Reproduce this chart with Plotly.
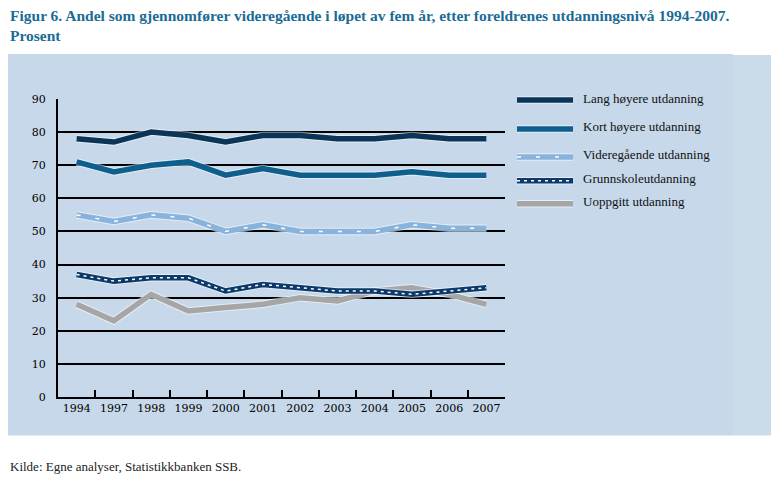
import plotly.graph_objects as go

years = ["1994", "1997", "1998", "1999", "2000", "2001", "2002", "2003", "2004", "2005", "2006", "2007"]
lang_hoyere = [78, 77, 80, 79, 77, 79, 79, 78, 78, 79, 78, 78]
kort_hoyere = [71, 68, 70, 71, 67, 69, 67, 67, 67, 68, 67, 67]
videregaende = [55, 53, 55, 54, 50, 52, 50, 50, 50, 52, 51, 51]
grunnskole = [37, 35, 36, 36, 32, 34, 33, 32, 32, 31, 32, 33]
uoppgitt = [28, 23, 31, 26, 27, 28, 30, 29, 32, 33, 31, 28]

names = ["Lang høyere utdanning", "Kort høyere utdanning", "Videregående utdanning",
         "Grunnskoleutdanning", "Uoppgitt utdanning"]
colors = ["#0b3558", "#0e5f8d", "#88b3dc", "#0b3a6a", "#a6a6a6"]
series = [lang_hoyere, kort_hoyere, videregaende, grunnskole, uoppgitt]
overlay = {2: "4px,15px", 3: "3px,4px"}

W, H = 781, 486
L, R, T, B = 58, 505, 99, 397.5

fig = go.Figure()
order = [0, 1, 2, 4, 3]
for i in order:
    fig.add_trace(go.Scatter(x=years, y=series[i], mode="lines", showlegend=False,
                             hoverinfo="skip",
                             line=dict(color="rgba(255,255,255,0.55)", width=7.5)))
    fig.add_trace(go.Scatter(x=years, y=series[i], mode="lines", name=names[i], showlegend=False,
                             line=dict(color=colors[i], width=5.5)))
    if i in overlay:
        fig.add_trace(go.Scatter(x=years, y=series[i], mode="lines", showlegend=False,
                                 hoverinfo="skip",
                                 line=dict(color="white", width=1.5, dash=overlay[i])))

def px(x):
    return (x - L) / (R - L)

def py(y):
    return (B - y) / (B - T)

shapes = [
    dict(type="rect", xref="paper", yref="paper", x0=px(8), x1=px(733), y0=py(436), y1=py(54),
         fillcolor="#c6d8e9", line=dict(width=0), layer="below"),
    dict(type="rect", xref="paper", yref="paper", x0=px(733), x1=px(771), y0=py(436), y1=py(55),
         fillcolor="#cadbea", line=dict(width=0), layer="below"),
]

annotations = [
    dict(xref="paper", yref="paper", x=px(8), y=py(5), xanchor="left", yanchor="top",
         align="left", showarrow=False,
         text="<b>Figur 6. Andel som gjennomfører videregående i løpet av fem år, etter foreldrenes utdanningsnivå 1994-2007.<br>Prosent</b>",
         font=dict(family="Liberation Serif", size=15.5, color="#1a6c96")),
    dict(xref="paper", yref="paper", x=px(8), y=py(467), xanchor="left", yanchor="middle",
         showarrow=False, text="Kilde: Egne analyser, Statistikkbanken SSB.",
         font=dict(family="Liberation Serif", size=13, color="#222222")),
]

leg_y = [100, 129, 157, 181, 204]
for i, yy in enumerate(leg_y):
    shapes.append(dict(type="line", xref="paper", yref="paper", x0=px(517), x1=px(573),
                       y0=py(yy), y1=py(yy), line=dict(color="rgba(255,255,255,0.55)", width=7.5)))
    shapes.append(dict(type="line", xref="paper", yref="paper", x0=px(517), x1=px(573),
                       y0=py(yy), y1=py(yy), line=dict(color=colors[i], width=5.5)))
    if i in overlay:
        shapes.append(dict(type="line", xref="paper", yref="paper", x0=px(517), x1=px(573),
                           y0=py(yy), y1=py(yy),
                           line=dict(color="white", width=1.5, dash=overlay[i])))
    annotations.append(dict(xref="paper", yref="paper", x=px(581), y=py(yy - 2),
                            xanchor="left", yanchor="middle", showarrow=False, text=names[i],
                            font=dict(family="Liberation Serif", size=13, color="#111111")))

fig.update_layout(
    width=W, height=H, autosize=False,
    margin=dict(l=L, r=W - R, t=T, b=H - B, pad=0),
    paper_bgcolor="white", plot_bgcolor="rgba(0,0,0,0)",
    shapes=shapes, annotations=annotations, showlegend=False,
    font=dict(family="DejaVu Serif", color="#000000"),
    xaxis=dict(type="category", range=[-0.5, 11.5], showgrid=False, showline=True,
               linecolor="black", linewidth=2, ticks="inside", ticklen=7, tickcolor="black",
               tickwidth=1.5, tickson="boundaries", zeroline=False, tickangle=0,
               tickfont=dict(family="DejaVu Serif", size=11, color="#000000")),
    yaxis=dict(range=[0, 90], dtick=10, showgrid=True, gridcolor="black", gridwidth=1.5,
               showline=True, linecolor="black", linewidth=2, zeroline=False, ticks="",
               tickfont=dict(family="DejaVu Serif", size=11, color="#000000"),
               ticklabelstandoff=8),
)

fig.write_html("out.html")
